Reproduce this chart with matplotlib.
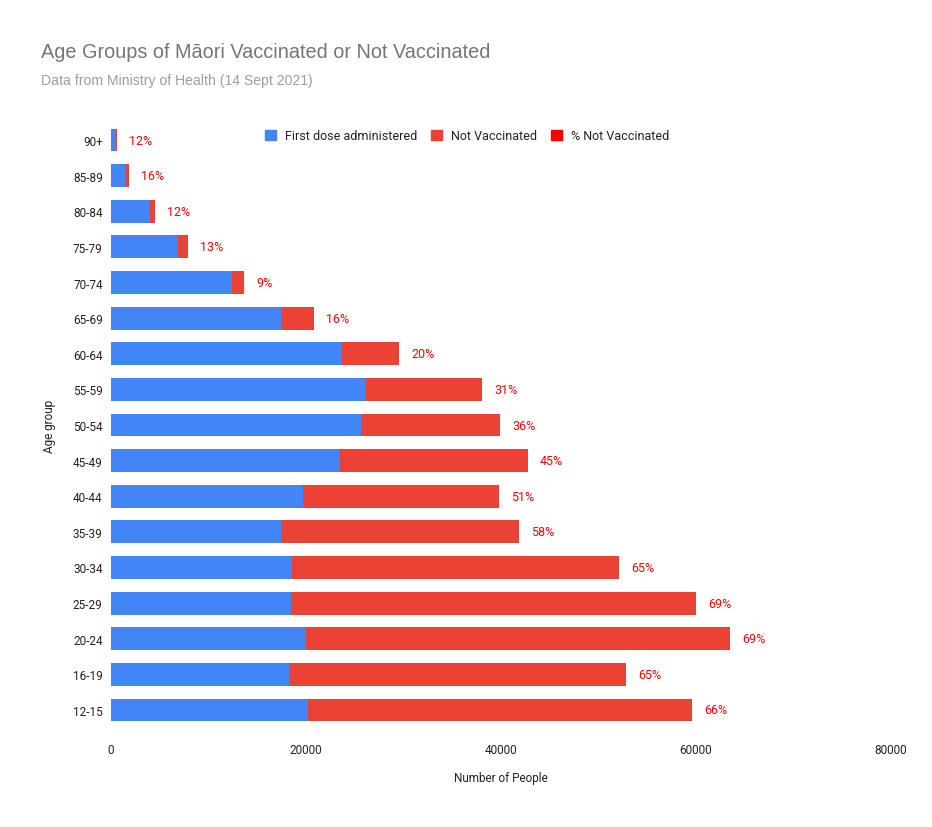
import matplotlib
matplotlib.use("Agg")
import matplotlib.pyplot as plt
from matplotlib.patches import Patch

plt.rcParams['font.family'] = ['Liberation Sans', 'DejaVu Sans']

### Data (bottom to top) ###
ages = ["12-15", "16-19", "20-24", "25-29", "30-34", "35-39", "40-44", "45-49",
        "50-54", "55-59", "60-64", "65-69", "70-74", "75-79", "80-84", "85-89", "90+"]
first_dose = [20200, 18260, 20000, 18460, 18560, 17440, 19690, 23450,
              25640, 26120, 23690, 17440, 12410, 6870, 4000, 1540, 510]
not_vacc = [39390, 34560, 43490, 41540, 33540, 24410, 20100, 19320,
            14260, 11930, 5850, 3380, 1230, 1030, 510, 310, 100]
pct_not_vacc = [66, 65, 69, 69, 65, 58, 51, 45, 36, 31, 20, 16, 9, 13, 12, 16, 12]
x_ticks = [0, 20000, 40000, 60000, 80000]

BLUE = "#4285F4"
RED = "#EA4335"
PCT_RED = "#FF0000"
ROBOTO = ['Roboto', 'DejaVu Sans']


def main():
    fig = plt.figure(figsize=(9.32, 8.28), dpi=100)
    ax = fig.add_axes([0.1191, 0.1198, 0.8369, 0.7314])

    y = list(range(len(ages)))
    ax.barh(y, first_dose, height=0.64, color=BLUE)
    ax.barh(y, not_vacc, left=first_dose, height=0.64, color=RED)

    for i in y:
        total = first_dose[i] + not_vacc[i]
        ax.annotate(f"{pct_not_vacc[i]}%", (total, i), xytext=(8.6, 0),
                    textcoords="offset points", va="center", ha="left",
                    color=PCT_RED, fontsize=9, family=ROBOTO)

    ax.set_xlim(0, 80000)
    ax.set_ylim(-0.5, len(ages) - 0.5)
    ax.set_xticks(x_ticks)
    ax.set_xticklabels([str(t) for t in x_ticks], family=ROBOTO)
    ax.set_yticks(y)
    ax.set_yticklabels(ages, family=ROBOTO)
    ax.tick_params(length=0, labelsize=8.5, colors="#222222")
    ax.tick_params(axis='x', pad=11)
    ax.tick_params(axis='y', pad=6)
    for s in ax.spines.values():
        s.set_visible(False)

    ax.set_xlabel("Number of People", fontsize=8.5, color="#222222", labelpad=11, family=ROBOTO)
    ax.set_ylabel("Age group", fontsize=8.5, color="#222222", labelpad=12, family=ROBOTO)

    fig.text(41 / 932, 1 - 53 / 828, "Age Groups of Māori Vaccinated or Not Vaccinated",
             fontsize=14.3, color="#757575", va="center", ha="left")
    fig.text(41 / 932, 1 - 81 / 828, "Data from Ministry of Health (14 Sept 2021)",
             fontsize=10.1, color="#9E9E9E", va="center", ha="left")

    handles = [Patch(color=BLUE), Patch(color=RED), Patch(color=PCT_RED)]
    labels = ["First dose administered", "Not Vaccinated", "% Not Vaccinated"]
    leg = fig.legend(handles, labels, loc="center", bbox_to_anchor=(467 / 932, 1 - 137 / 828),
                     ncol=3, frameon=False, handlelength=0.9, handleheight=0.9,
                     handletextpad=0.7, columnspacing=1.1, prop={'family': ROBOTO, 'size': 9})
    for t in leg.get_texts():
        t.set_color("#222222")

    fig.savefig("out.png", dpi=100)


if __name__ == '__main__':
    main()
